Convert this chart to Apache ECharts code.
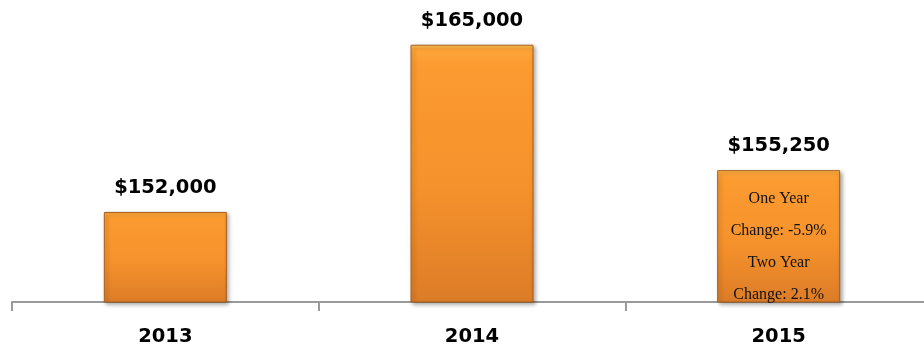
<!DOCTYPE html>
<html>
<head>
<meta charset="utf-8">
<script src="https://cdn.jsdelivr.net/npm/echarts@6/dist/echarts.min.js"></script>
<style>
html,body{margin:0;padding:0;background:#fff;}
#chart{width:924px;height:352px;}
</style>
</head>
<body>
<div id="chart"></div>
<script>
var categories = ['2013', '2014', '2015'];
var values = [152000, 165000, 155250];
var notes = ['', '', 'One Year\nChange: -5.9%\nTwo Year\nChange: 2.1%'];
var yMin = 145000;
var yMax = 167000;

function fmt(v) {
  return '$' + v.toLocaleString('en-US');
}

var barGradient = new echarts.graphic.LinearGradient(0, 0, 0, 1, [
  {offset: 0, color: '#FFD060'},
  {offset: 0.015, color: '#FFA63A'},
  {offset: 0.08, color: '#FB9B30'},
  {offset: 0.55, color: '#F6922C'},
  {offset: 1, color: '#DC7C27'}
]);

var chart = echarts.init(document.getElementById('chart'));
chart.setOption({
  animation: false,
  grid: {left: 12, width: 920, top: 19, bottom: 50, containLabel: false, outerBoundsMode: 'none'},
  xAxis: {
    type: 'category',
    data: categories,
    axisLine: {lineStyle: {color: '#9a9a9a', width: 2}},
    axisTick: {show: true, length: 9, lineStyle: {color: '#9a9a9a', width: 2}},
    axisLabel: {
      margin: 25,
      fontFamily: 'DejaVu Sans',
      fontWeight: 'bold',
      fontSize: 19.5,
      color: '#000'
    }
  },
  yAxis: {
    type: 'value',
    min: yMin,
    max: yMax,
    show: false,
    splitLine: {show: false}
  },
  series: [{
    type: 'bar',
    barWidth: 123,
    data: values.map(function (v, i) {
      return {
        value: v,
        label: notes[i] ? {
          show: true,
          position: 'insideTop',
          distance: 12,
          formatter: notes[i],
          fontFamily: 'Liberation Serif',
          fontSize: 16,
          lineHeight: 32.3,
          color: '#111',
          align: 'center'
        } : {show: false}
      };
    }),
    itemStyle: {
      color: barGradient,
      borderColor: '#A85E1C',
      borderWidth: 1,
      shadowColor: 'rgba(0,0,0,0.35)',
      shadowBlur: 4,
      shadowOffsetX: 2,
      shadowOffsetY: 2
    }
  }, {
    type: 'bar',
    barWidth: 123,
    barGap: '-100%',
    silent: true,
    data: values,
    itemStyle: {color: 'transparent'},
    label: {
      show: true,
      position: 'top',
      distance: 14,
      formatter: function (p) { return fmt(p.value); },
      fontFamily: 'DejaVu Sans',
      fontWeight: 'bold',
      fontSize: 19.5,
      color: '#000'
    }
  }]
});
</script>
</body>
</html>
